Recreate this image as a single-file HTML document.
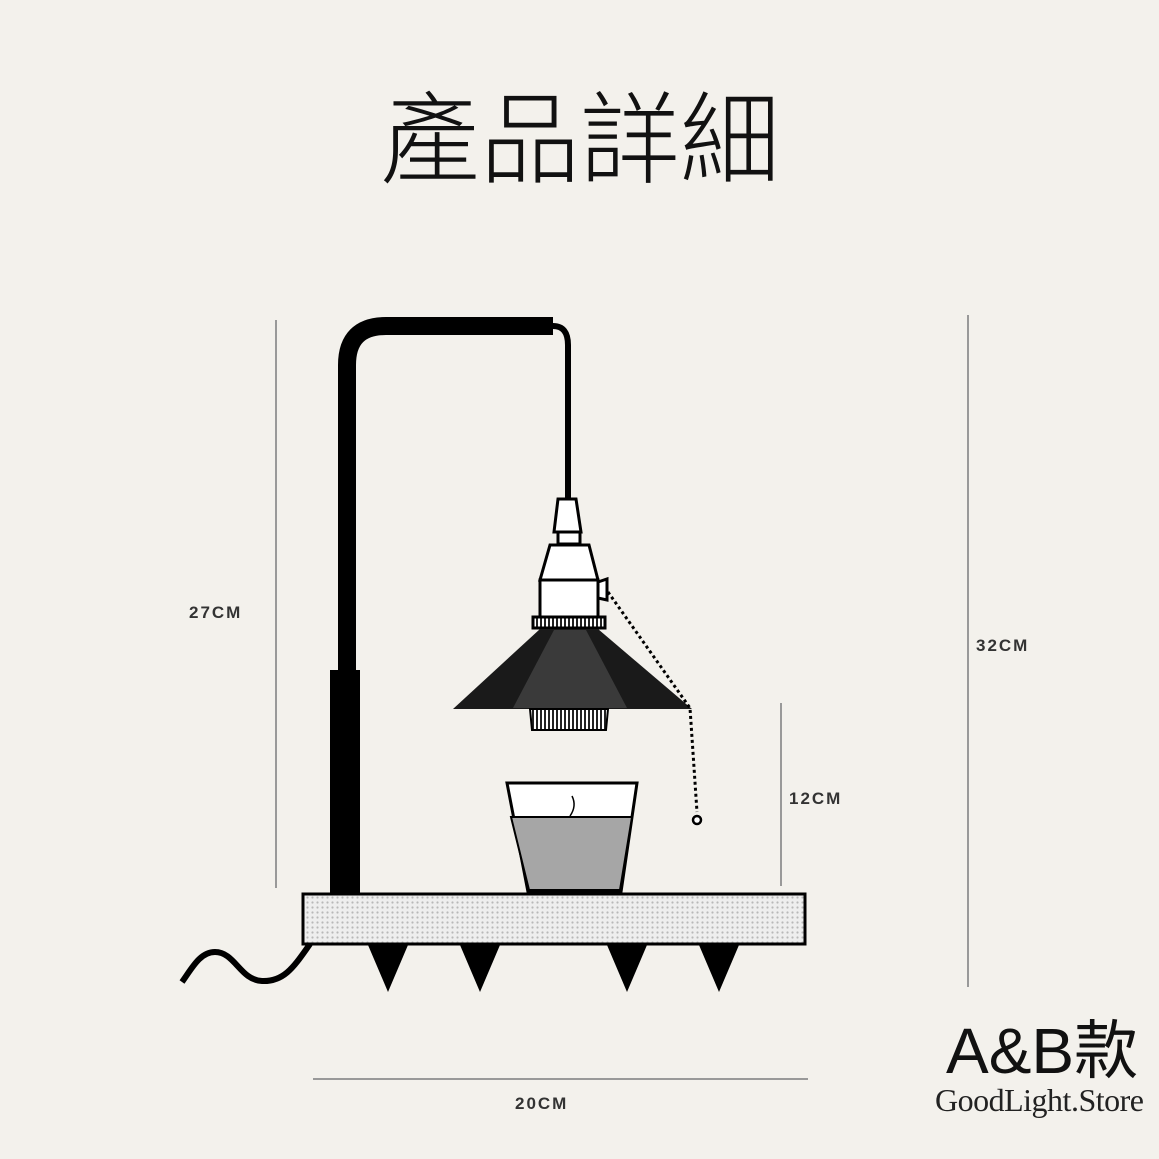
<!DOCTYPE html>
<html><head><meta charset="utf-8"><style>
html,body{margin:0;padding:0;background:#f3f1ec;}
svg{display:block}
</style></head><body>
<svg width="1159" height="1159" viewBox="0 0 1159 1159" xmlns="http://www.w3.org/2000/svg">
<defs>
<pattern id="dots" width="5" height="5" patternUnits="userSpaceOnUse">
<rect width="5" height="5" fill="#eeeeee"/><circle cx="2.5" cy="2.5" r="1.1" fill="#b8b8b8"/>
</pattern>
<pattern id="stripes" width="4" height="10" patternUnits="userSpaceOnUse">
<rect width="4" height="10" fill="#fff"/><rect width="2" height="10" fill="#222"/>
</pattern>
</defs>
<rect width="1159" height="1159" fill="#f3f1ec"/>
<text x="580" y="175" text-anchor="middle" font-family="Liberation Sans, Noto Sans CJK TC, sans-serif" font-size="100" font-weight="300" fill="#111">產品詳細</text>

<g stroke="#999" stroke-width="2">
<line x1="276" y1="320" x2="276" y2="888"/>
<line x1="968" y1="315" x2="968" y2="987"/>
<line x1="781" y1="703" x2="781" y2="886"/>
<line x1="313" y1="1079" x2="808" y2="1079"/>
</g>
<g font-family="Liberation Sans, sans-serif" font-weight="bold" font-size="17" fill="#333" letter-spacing="2">
<text x="189" y="618">27CM</text>
<text x="976" y="651">32CM</text>
<text x="789" y="804">12CM</text>
<text x="515" y="1109">20CM</text>
</g>

<path d="M347 675 V365 Q347 326 386 326 H553" fill="none" stroke="#000" stroke-width="18"/>
<rect x="330" y="670" width="30" height="225" fill="#000"/>
<path d="M553 326 Q568 326 568 345 V500" fill="none" stroke="#000" stroke-width="6"/>

<g stroke="#000" stroke-width="3" fill="#fff">
<polygon points="558,499 576,499 581,532 554,532"/>
<rect x="558" y="532" width="22" height="12"/>
<polygon points="550,545 589,545 598,580 540,580"/>
<rect x="540" y="580" width="58" height="37"/>
<polygon points="598,582 607,579 607,600 598,598"/>
<rect x="533" y="617" width="72" height="11" fill="url(#stripes)"/>
</g>
<polygon points="540,629 598,629 692,709 453,709" fill="#1a1a1a"/>
<polygon points="554,630 586,630 627,708 513,708" fill="#3a3a3a"/>
<polygon points="530,709 608,709 606,730 532,730" fill="url(#stripes)" stroke="#000" stroke-width="2"/>
<path d="M608 592 L690 708 L697 812" fill="none" stroke="#000" stroke-width="3" stroke-dasharray="3,3"/>
<circle cx="697" cy="820" r="4" fill="#fff" stroke="#000" stroke-width="2.5"/>

<polygon points="507,783 637,783 621,892 528,892" fill="#fff" stroke="#000" stroke-width="3"/>
<polygon points="511,817 632,817 620,890 529,890" fill="#a6a6a6" stroke="#000" stroke-width="2"/>
<path d="M572 796 Q577 806 570 816" fill="none" stroke="#000" stroke-width="1.5"/>

<rect x="303" y="894" width="502" height="50" fill="url(#dots)" stroke="#000" stroke-width="3"/>
<g fill="#000">
<polygon points="368,945 408,945 388,992"/>
<polygon points="460,945 500,945 480,992"/>
<polygon points="607,945 647,945 627,992"/>
<polygon points="699,945 739,945 719,992"/>
</g>
<path d="M310 944 C295 965, 285 982, 262 981 C240 980, 235 952, 215 952 C200 952, 192 968, 182 982" fill="none" stroke="#000" stroke-width="6"/>

<text x="946" y="1073" font-family="Liberation Sans, Noto Sans CJK TC, sans-serif" font-size="64" fill="#111">A&amp;B款</text>
<text x="935" y="1111" font-family="Liberation Serif, serif" font-size="32" fill="#222" letter-spacing="-0.5">GoodLight.Store</text>
</svg>
</body></html>
